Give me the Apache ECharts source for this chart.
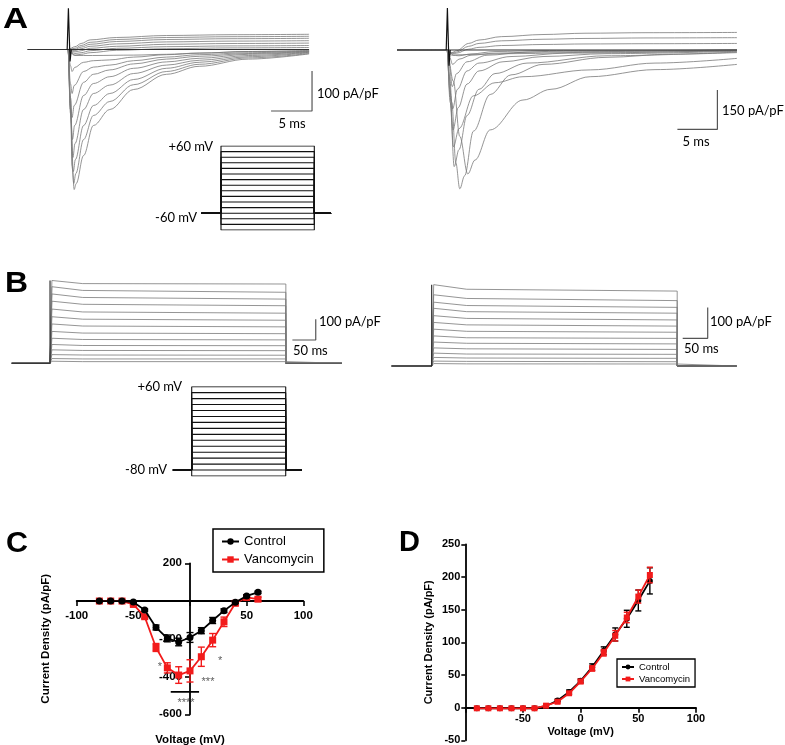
<!DOCTYPE html>
<html>
<head>
<meta charset="utf-8">
<script src="https://cdn.jsdelivr.net/npm/echarts@6.0.0/dist/echarts.min.js"></script>
<style>
  html, body { margin: 0; background: #fff; }
  #fig { width: 785px; height: 745px; }
</style>
</head>
<body>
<div id="fig"></div>
<script>
// ---------- A: sodium current traces, [t ms, I pA/pF] ----------
// control (left)
const naCtrlOut = [
  [[0.85, 7], [1.6, 15], [2.7, 24], [5.9, 30], [12, 35], [20, 37], [29.4, 38]],
  [[0.85, 3], [1.6, 10], [2.7, 18], [5.9, 25], [12, 30], [20, 32], [29.4, 33]],
  [[0.85, 0], [1.6, 6], [2.7, 13], [5.9, 20], [12, 25], [20, 27], [29.4, 28]],
  [[0.85, -3], [1.6, 2], [2.7, 8], [5.9, 14], [12, 19], [20, 21], [29.4, 22]],
  [[0.85, -6], [1.6, -3], [2.7, 3], [5.9, 8], [12, 13], [20, 15], [29.4, 16]],
  [[0.85, -10], [1.6, -8], [2.7, -3], [5.9, 3], [12, 7], [20, 9], [29.4, 10]],
  [[0.85, -14], [1.6, -12], [2.7, -8], [5.9, -2], [12, 2], [20, 4], [29.4, 5]]
];
const naCtrlIn = [
  [[0.3, -120], [0.55, -300], [0.75, -350], [1.0, -335], [1.9, -265], [3.1, -190], [5.1, -150], [8, -100], [12, -62], [16, -42], [22, -24], [29.4, -11]],
  [[0.3, -140], [0.5, -290], [0.7, -335], [0.95, -310], [1.9, -225], [3.1, -165], [5.1, -130], [8, -88], [12, -55], [16, -37], [22, -21], [29.4, -10]],
  [[0.3, -150], [0.65, -305], [0.9, -275], [1.9, -190], [3.1, -140], [5.1, -110], [8, -75], [12, -47], [16, -32], [22, -18], [29.4, -8]],
  [[0.3, -160], [0.6, -270], [0.85, -235], [1.9, -150], [3.1, -110], [5.1, -89], [8, -60], [12, -39], [16, -27], [22, -15], [29.4, -7]],
  [[0.3, -150], [0.55, -225], [0.8, -190], [1.9, -115], [3.1, -85], [5.1, -68], [8, -47], [12, -31], [16, -22], [22, -12], [29.4, -6]],
  [[0.3, -120], [0.5, -170], [0.75, -140], [1.9, -82], [3.1, -62], [5.1, -51], [8, -36], [12, -24], [16, -17], [22, -10], [29.4, -5]],
  [[0.3, -85], [0.5, -110], [0.75, -90], [1.9, -55], [3.1, -44], [5.1, -39], [8, -28], [12, -19], [16, -13], [22, -8], [29.4, -4]],
  [[0.3, -40], [0.5, -55], [0.8, -45], [1.9, -32], [3.1, -28], [5.1, -26], [8, -19], [12, -13], [16, -9], [22, -5], [29.4, -3]],
  [[0.4, -10], [0.8, -15], [3, -15], [8, -14], [12, -12], [16, -9], [22, -5], [29.4, -3]]
];
const naCtrlSpike = [[-0.1, 0], [0.05, 103], [0.25, -30], [0.4, 0]];
const naCtrlSpan = [-4.9, 29.4];

// vancomycin (right)
const naVancOut = [
  [[0.6, -10], [1.2, -3], [2.7, 25], [4, 38], [6.8, 51], [12, 59], [17.25, 64], [25, 66], [36.25, 67]],
  [[0.6, -12], [1.2, -8], [2.7, 14], [4, 25], [6.8, 35], [12, 41], [17.25, 44], [25, 46], [36.25, 47]],
  [[0.6, -15], [1.2, -12], [2.7, 3], [4, 10], [6.8, 17], [12, 21], [17.25, 23], [25, 24], [36.25, 25]],
  [[0.6, -20], [1.5, -22], [3, -15], [6, -6], [12, -2], [36.25, 0]]
];
const naVancIn = [
  [[0.6, -200], [1.1, -430], [1.6, -530], [2.2, -480], [3.3, -310], [5.4, -170], [8, -95], [12, -55], [20, -28], [28, -16], [36.25, -10]],
  [[0.8, -120], [1.6, -330], [2.6, -473], [3.5, -420], [5.4, -305], [9.5, -191], [13, -150], [17.9, -102], [26, -75], [36.25, -55]],
  [[0.4, -200], [0.9, -445], [1.5, -380], [2.5, -250], [4, -150], [6, -90], [10, -50], [20, -22], [36.25, -8]],
  [[0.4, -180], [0.8, -370], [1.5, -300], [3.3, -175], [6, -125], [9.5, -102], [17.9, -76], [26, -50], [36.25, -32]],
  [[0.35, -150], [0.75, -305], [1.4, -220], [2.5, -130], [4, -80], [7, -45], [12, -25], [20, -14], [36.25, -5]],
  [[0.3, -100], [0.7, -225], [1.3, -150], [2.5, -80], [4, -50], [8, -25], [15, -12], [36.25, -2]],
  [[0.3, -60], [0.65, -140], [1.2, -90], [2.5, -45], [5, -20], [10, -8], [36.25, 0]],
  [[0.35, -30], [0.7, -55], [1.5, -35], [3, -20], [6, -12], [15, -4], [36.25, 0]],
  [[0.4, -10], [0.8, -19], [3, -17], [8, -14], [20, -8], [36.25, -4]]
];
const naVancSpike = [[-0.1, 0], [0.05, 160], [0.25, -60], [0.4, 0]];
const naVancSpan = [-6.25, 36.25];

// ---------- B: potassium current traces (pA/pF at ~5 ms, ~70 ms, step end) ----------
const kCtrlPeak  = [400, 370, 335, 300, 262, 225, 190, 154, 121, 91, 65, 42, 23, 10];
const kCtrlEarly = [385, 352, 318, 285, 248, 213, 180, 146, 115, 86, 62, 40, 21, 8];
const kCtrlLate  = [383, 343, 310, 278, 242, 208, 176, 143, 113, 85, 61, 39, 21, 8];
const kCtrlSpan = [-82, 625], kCtrlStepEnd = 505;

const kVancPeak  = [265, 232, 208, 188, 164, 142, 120, 98, 78, 59, 42, 28, 16, 8];
const kVancEarly = [250, 220, 197, 177, 155, 134, 113, 92, 74, 56, 39, 26, 15, 7];
const kVancLate  = [244, 213, 191, 172, 150, 130, 110, 90, 72, 54, 38, 25, 14, 6.5];
const kVancSpan = [-80, 610], kVancStepEnd = 491;

// ---------- voltage protocols (mV) ----------
const stepLevels = [60, 50, 40, 30, 20, 10, 0, -10, -20, -30, -40, -50, -60, -70, -80, -90];
const naHold = -60;
const kHold = -80;

// ---------- C: Na IV ----------
const ivV = [-80, -70, -60, -50, -40, -30, -20, -10, 0, 10, 20, 30, 40, 50, 60];
const ivCtrl    = [0, 0, 0, -5, -48, -140, -198, -217, -193, -157, -103, -51, -7, 27, 46];
const ivCtrlErr = [3, 3, 3, 4, 6, 13, 18, 20, 26, 16, 16, 10, 6, 6, 6];
const ivVanc    = [0, 0, 0, -18, -83, -246, -354, -392, -370, -295, -207, -110, -12, 19, 10];
const ivVancErr = [3, 3, 3, 5, 10, 21, 27, 44, 59, 51, 35, 25, 10, 8, 10];
const ivStars = [['*', -26.5, -350], ['*', 26.5, -318], ['***', 15.9, -429], ['****', -3.5, -541]];
const ivSigBar = [[-17, -481], [8, -481]];

// ---------- D: K IV ----------
const kV = [-90, -80, -70, -60, -50, -40, -30, -20, -10, 0, 10, 20, 30, 40, 50, 60];
const kIvCtrl    = [-1, -1, -1, -1, -1, -1, 2.5, 11, 24, 41, 62, 87, 112, 136, 164, 194];
const kIvCtrlErr = [1, 1, 1, 1, 1, 1, 1, 2, 3, 3, 5, 6, 10, 13, 16, 20];
const kIvVanc    = [-1, -1, -1, -1, -1, -1, 3, 9, 22, 40, 60, 84, 110, 138, 170, 203];
const kIvVancErr = [1, 1, 1, 1, 1, 1, 1, 2, 2, 3, 4, 5, 8, 8, 10, 12];

// ---------- layout ----------
const RED = '#f21b1b';
const TRACE = '#7a7a7a';
const ARIAL = 'Liberation Sans';
const CALIBRI = 'Lato';

const grids = [
  { left: 27, top: 0, width: 303.4, height: 200 },      // 0 A control
  { left: 391, top: 0, width: 352, height: 200 },       // 1 A vancomycin
  { left: 201.4, top: 146, width: 129.7, height: 84 },  // 2 A protocol
  { left: 8, top: 270, width: 340.9, height: 100 },     // 3 B control
  { left: 386.7, top: 270, width: 365, height: 100 },   // 4 B vancomycin
  { left: 172.9, top: 386.7, width: 128.8, height: 89.3 }, // 5 B protocol
  { left: 76.7, top: 563.3, width: 226.6, height: 151 },   // 6 C
  { left: 465.3, top: 544.3, width: 230.7, height: 196 }   // 7 D
].map(g => Object.assign({ outerBoundsMode: 'none', containLabel: false }, g));
const hiddenRanges = [
  [[-5, 32], [-376.25, 123.75]],
  [[-7, 37], [-572.6, 190.8]],
  [[-21, 118], [-90, 60]],
  [[-90, 640], [-32.4, 450.7]],
  [[-90, 640], [-13, 312.7]],
  [[-20, 117], [-90, 60]]
];
// scale bars: [t, I] corner, bar lengths
const scaleBars = [
  { g: 0, t: 29.76, i: -153.75, dt: 5, di: 100 },
  { g: 1, t: 33.8, i: -302.7, dt: 5, di: 150 },
  { g: 3, t: 569, i: 112.6, dt: 50, di: 100 },
  { g: 4, t: 552, i: 90.2, dt: 50, di: 100 }
];

function line(g, pts, color, width, smooth, z) {
  return {
    type: 'line', xAxisIndex: g, yAxisIndex: g, data: pts,
    showSymbol: false, symbol: 'none', smooth: smooth || false, smoothMonotone: 'x',
    lineStyle: { color: color, width: width }, silent: true, animation: false, z: z || 2
  };
}

const series = [];

// A traces
function naPanel(g, outs, ins, spike, span) {
  outs.concat(ins).forEach(tr => {
    series.push(line(g, [[span[0], 0], [0, 0]].concat(tr), TRACE, 0.8, 0.35));
  });
  series.push(line(g, [[span[0], 0], [span[1], 0]], '#333', 1, false, 3));
  series.push(line(g, spike, '#111', 1.2, false, 4));
}
naPanel(0, naCtrlOut, naCtrlIn, naCtrlSpike, naCtrlSpan);
naPanel(1, naVancOut, naVancIn, naVancSpike, naVancSpan);

// B traces
function kPanel(g, peak, early, late, span, stepEnd) {
  peak.forEach((p, i) => {
    series.push(line(g, [[span[0], 0], [0, 0], [4, p], [70, early[i]], [stepEnd, late[i]], [stepEnd, 0], [span[1], 0]], TRACE, 0.8));
  });
  series.push(line(g, [[span[0], 0], [0, 0], [0, peak[0]]], '#222', 1.1, false, 3));
  series.push(line(g, [[stepEnd, 0], [span[1], 0]], '#555', 1, false, 3));
}
kPanel(3, kCtrlPeak, kCtrlEarly, kCtrlLate, kCtrlSpan, kCtrlStepEnd);
kPanel(4, kVancPeak, kVancEarly, kVancLate, kVancSpan, kVancStepEnd);

// protocols
function protocol(g, hold, tA, tB) {
  stepLevels.forEach(v => {
    series.push(line(g, [[tA, hold], [0, hold], [0, v], [100, v], [100, hold], [tB, hold]], '#111', 1.1));
  });
}
protocol(2, naHold, -21, 118);
protocol(5, kHold, -20, 117);

// scale bars
scaleBars.forEach(s => {
  series.push(line(s.g, [[s.t - s.dt, s.i], [s.t, s.i], [s.t, s.i + s.di]], '#555', 1.2));
});

// IV plots
function errorBars(g, xs, ys, errs, color, cap, z) {
  return {
    type: 'custom', xAxisIndex: g, yAxisIndex: g, silent: true, animation: false, z: z,
    data: xs.map((x, i) => [x, ys[i] - errs[i], ys[i] + errs[i]]),
    renderItem: function (params, api) {
      const lo = api.coord([api.value(0), api.value(1)]);
      const hi = api.coord([api.value(0), api.value(2)]);
      const st = { stroke: color, lineWidth: 1.4 };
      return {
        type: 'group', children: [
          { type: 'line', shape: { x1: lo[0], y1: lo[1], x2: hi[0], y2: hi[1] }, style: st },
          { type: 'line', shape: { x1: lo[0] - cap, y1: lo[1], x2: lo[0] + cap, y2: lo[1] }, style: st },
          { type: 'line', shape: { x1: hi[0] - cap, y1: hi[1], x2: hi[0] + cap, y2: hi[1] }, style: st }
        ]
      };
    }
  };
}
function ivLine(g, name, xs, ys, color, symbol, size, z) {
  return {
    type: 'line', name: name, xAxisIndex: g, yAxisIndex: g,
    data: xs.map((x, i) => [x, ys[i]]),
    symbol: symbol, symbolSize: size, showAllSymbol: true,
    itemStyle: { color: color }, lineStyle: { color: color, width: 1.8 },
    silent: true, animation: false, z: z
  };
}

// C: red under black
series.push(errorBars(6, ivV, ivVanc, ivVancErr, RED, 3.5, 5));
series.push(ivLine(6, 'Vancomycin', ivV, ivVanc, RED, 'rect', 7, 6));
series.push(errorBars(6, ivV, ivCtrl, ivCtrlErr, '#000', 3.5, 7));
series.push(ivLine(6, 'Control', ivV, ivCtrl, '#000', 'circle', 7, 8));
series.push(line(6, ivSigBar, '#000', 1.8, false, 9));
series.push({
  type: 'scatter', xAxisIndex: 6, yAxisIndex: 6, symbolSize: 0, silent: true, animation: false, z: 9,
  data: ivStars.map(s => ({ name: s[0], value: [s[1], s[2]] })),
  label: { show: true, position: 'inside', formatter: '{b}', color: '#333', fontSize: 11, fontFamily: ARIAL }
});

// D: black under red
series.push(errorBars(7, kV, kIvCtrl, kIvCtrlErr, '#000', 3, 5));
series.push(ivLine(7, 'Control', kV, kIvCtrl, '#000', 'circle', 6, 6));
series.push(errorBars(7, kV, kIvVanc, kIvVancErr, RED, 3, 7));
series.push(ivLine(7, 'Vancomycin', kV, kIvVanc, RED, 'rect', 6, 8));

// axes
const xAxes = hiddenRanges.map((r, i) => ({ type: 'value', gridIndex: i, min: r[0][0], max: r[0][1], show: false }));
const yAxes = hiddenRanges.map((r, i) => ({ type: 'value', gridIndex: i, min: r[1][0], max: r[1][1], show: false }));

const axisFont = { color: '#000', fontFamily: ARIAL, fontWeight: 'bold', fontSize: 11.5 };
const axLine = { show: true, onZero: false, lineStyle: { color: '#000', width: 1.8 } };
const axTick = { show: true, length: 5, lineStyle: { color: '#000', width: 1.6 } };

// C axes cross at the origin: shift them from the grid edges to zero
xAxes.push({
  type: 'value', gridIndex: 6, min: -100, max: 100, interval: 50, position: 'bottom', offset: -113.3,
  axisLine: axLine, axisTick: axTick, splitLine: { show: false },
  axisLabel: Object.assign({ margin: 9, formatter: v => (v === 0 ? '' : v) }, axisFont),
  name: 'Voltage (mV)', nameLocation: 'middle', nameGap: 133,
  nameTextStyle: Object.assign({}, axisFont)
});
yAxes.push({
  type: 'value', gridIndex: 6, min: -600, max: 200, interval: 200, position: 'left', offset: -113.3,
  axisLine: axLine, axisTick: axTick, splitLine: { show: false },
  axisLabel: Object.assign({ margin: 8, formatter: v => (v === 0 ? '' : v) }, axisFont),
  name: 'Current Density (pA/pF)', nameLocation: 'middle', nameGap: 138,
  nameTextStyle: Object.assign({}, axisFont)
});
const dFont = Object.assign({}, axisFont, { fontSize: 11 });
xAxes.push({
  type: 'value', gridIndex: 7, min: -100, max: 100, interval: 50, position: 'bottom', offset: -32.6,
  axisLine: axLine, axisTick: axTick, splitLine: { show: false },
  axisLabel: Object.assign({ margin: 6, formatter: v => (v === -100 ? '' : v) }, dFont),
  name: 'Voltage (mV)', nameLocation: 'middle', nameGap: 19,
  nameTextStyle: Object.assign({}, dFont)
});
yAxes.push({
  type: 'value', gridIndex: 7, min: -50, max: 250, interval: 50, position: 'left',
  axisLine: axLine,
  axisTick: { show: true, length: 4, lineStyle: { color: '#000', width: 1.6 } }, splitLine: { show: false },
  axisLabel: Object.assign({ margin: 5 }, dFont),
  name: 'Current Density (pA/pF)', nameLocation: 'middle', nameGap: 31,
  nameTextStyle: Object.assign({}, dFont)
});

// free text
function txt(s, x, y, font, align, sx) {
  return {
    type: 'text', x: x, y: y, scaleX: sx || 1, silent: true,
    style: { text: s, font: font, fill: '#000', textAlign: align || 'left', align: align || 'left',
             textVerticalAlign: 'middle', verticalAlign: 'middle' }
  };
}
const letter = 'bold 29px "' + ARIAL + '"';
const note = '13px "' + CALIBRI + '"';
const graphic = [
  txt('A', 3, 20, letter, 'left', 1.2), txt('B', 5, 284, letter, 'left', 1.1),
  txt('C', 6, 544, letter, 'left', 1.05), txt('D', 399, 543, letter, 'left', 1.0),
  txt('100 pA/pF', 317, 94, note), txt('5 ms', 292, 124, note, 'center'),
  txt('150 pA/pF', 722, 111, note), txt('5 ms', 696, 142, note, 'center'),
  txt('+60 mV', 213, 147, note, 'right'), txt('-60 mV', 197, 218, note, 'right'),
  txt('100 pA/pF', 319, 322, note), txt('50 ms', 293, 351, note),
  txt('100 pA/pF', 710, 322, note), txt('50 ms', 684, 349, note),
  txt('+60 mV', 182, 387, note, 'right'), txt('-80 mV', 167, 470, note, 'right')
];

const option = {
  backgroundColor: '#fff',
  animation: false,
  grid: grids,
  xAxis: xAxes,
  yAxis: yAxes,
  series: series,
  graphic: graphic,
  legend: [
    {
      left: 213, top: 529, orient: 'vertical', data: ['Control', 'Vancomycin'],
      borderColor: '#000', borderWidth: 1.5, padding: [6, 10, 6, 8], itemGap: 5,
      itemWidth: 17, itemHeight: 8, selectedMode: false,
      textStyle: { fontFamily: ARIAL, fontSize: 13, color: '#000' }
    },
    {
      left: 617, top: 659, orient: 'vertical', data: ['Control', 'Vancomycin'],
      borderColor: '#000', borderWidth: 1.3, padding: [3, 5, 3, 4], itemGap: 2,
      itemWidth: 12, itemHeight: 6, selectedMode: false,
      textStyle: { fontFamily: ARIAL, fontSize: 9.5, color: '#000' }
    }
  ]
};

const chart = echarts.init(document.getElementById('fig'), null, { renderer: 'canvas' });
chart.setOption(option);
</script>
</body>
</html>
